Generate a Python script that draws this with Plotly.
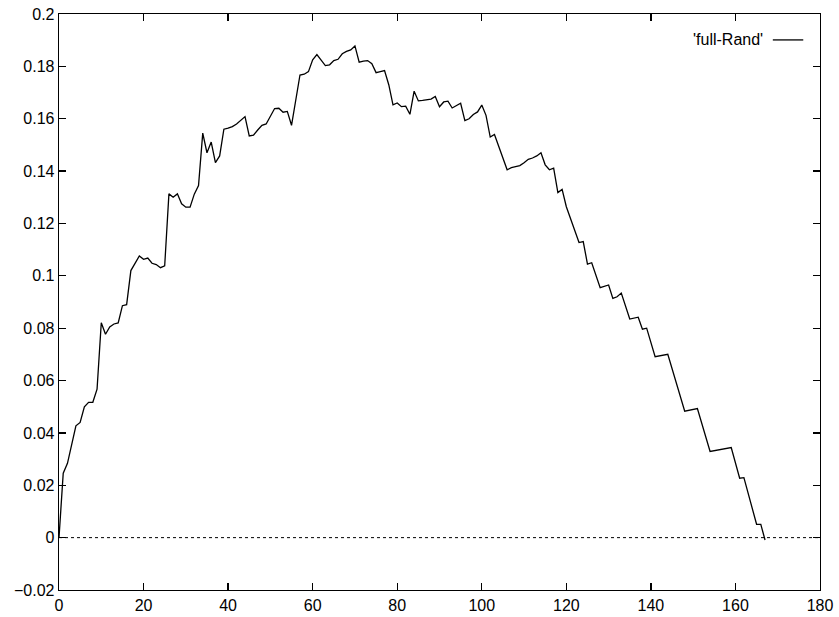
import plotly.graph_objects as go

x_vals = [0, 1, 2, 4, 5, 6, 7, 8, 9, 10, 11, 12, 13, 14, 15, 16, 17, 19, 20, 21,
          22, 23, 24, 25, 26, 27, 28, 29, 30, 31, 32, 33, 34, 35, 36, 37, 38, 39, 40, 41,
          42, 43, 44, 45, 46, 47, 48, 49, 50, 51, 52, 53, 54, 55, 57, 58, 59, 60, 61, 62,
          63, 64, 65, 66, 67, 68, 69, 70, 71, 72, 73, 74, 75, 76, 77, 78, 79, 80, 81, 82,
          83, 84, 85, 86, 87, 88, 89, 90, 91, 92, 93, 94, 95, 96, 97, 98, 99, 100, 101, 102,
          103, 106, 107, 108, 109, 110, 111, 112, 113, 114, 115, 116, 117, 118, 119, 120, 123, 124, 125, 126,
          128, 130, 131, 132, 133, 135, 137, 138, 139, 141, 144, 148, 151, 154, 159, 161, 162, 165, 166, 167]
y_vals = [0.0, 0.0246, 0.0284, 0.0427, 0.044, 0.050, 0.0517, 0.0517, 0.0567, 0.0821, 0.0777, 0.0805, 0.0816, 0.082, 0.0886, 0.089, 0.102, 0.1076, 0.1063, 0.1068,
          0.1048, 0.1043, 0.1031, 0.1038, 0.1313, 0.130, 0.1313, 0.1275, 0.1262, 0.1262, 0.1312, 0.1345, 0.1545, 0.147, 0.1511, 0.1432, 0.1458, 0.156, 0.1564, 0.157,
          0.158, 0.1595, 0.1608, 0.1534, 0.1537, 0.1557, 0.1575, 0.158, 0.161, 0.1639, 0.164, 0.1625, 0.1628, 0.1575, 0.1767, 0.177, 0.178, 0.1825, 0.1845, 0.1822,
          0.1803, 0.1806, 0.1822, 0.1827, 0.1848, 0.1857, 0.1863, 0.1878, 0.1816, 0.182, 0.1822, 0.181, 0.1776, 0.178, 0.1784, 0.173, 0.1653, 0.166, 0.1646, 0.1648,
          0.1617, 0.1705, 0.1668, 0.167, 0.1672, 0.1675, 0.1685, 0.1646, 0.1664, 0.1667, 0.1641, 0.165, 0.1659, 0.1593, 0.160, 0.1616, 0.1626, 0.1652, 0.1613, 0.153,
          0.154, 0.1405, 0.1413, 0.1417, 0.1421, 0.1432, 0.1445, 0.145, 0.1458, 0.147, 0.1424, 0.1405, 0.1411, 0.1318, 0.133, 0.1264, 0.1127, 0.1131, 0.1045, 0.105,
          0.0955, 0.0965, 0.0914, 0.092, 0.0934, 0.0835, 0.0842, 0.0796, 0.080, 0.0691, 0.070, 0.0483, 0.0493, 0.0329, 0.0344, 0.0227, 0.0229, 0.0051, 0.0051, -0.0009]

x_ticks = [0, 20, 40, 60, 80, 100, 120, 140, 160, 180]
y_ticks = [-0.02, 0, 0.02, 0.04, 0.06, 0.08, 0.1, 0.12, 0.14, 0.16, 0.18, 0.2]
y_tick_text = ["\u22120.02", "0", "0.02", "0.04", "0.06", "0.08", "0.1", "0.12", "0.14", "0.16", "0.18", "0.2"]
series_name = "'full-Rand'"

font = dict(family="Liberation Sans, Arial, Helvetica", size=16, color="black")

fig = go.Figure()
fig.add_trace(go.Scatter(x=x_vals, y=y_vals, mode="lines", name=series_name,
                         line=dict(color="black", width=1.3), showlegend=False,
                         hoverinfo="skip"))

axis_common = dict(showgrid=False, zeroline=False, showline=True, linecolor="black",
                   linewidth=1.3, mirror="ticks", ticks="inside", ticklen=7,
                   tickwidth=1.3, tickcolor="black", tickfont=font, automargin=False,
                   ticklabeloverflow="allow")

fig.update_xaxes(range=[0, 180], tickvals=x_ticks, ticktext=[str(v) for v in x_ticks], **axis_common)
fig.update_yaxes(range=[-0.02, 0.2], tickvals=y_ticks, ticktext=y_tick_text, **axis_common)

# dotted zero line
fig.add_shape(type="line", xref="x", yref="y", x0=0, x1=180, y0=0, y1=0,
              line=dict(color="black", width=1, dash="dot"))

# gnuplot-style key: text then line sample
fig.add_annotation(xref="paper", yref="paper", x=0.928, y=0.955, text=series_name,
                   showarrow=False, xanchor="right", yanchor="middle", font=font)
fig.add_shape(type="line", xref="paper", yref="paper", x0=0.938, x1=0.978, y0=0.955, y1=0.955,
              line=dict(color="black", width=1.3))

fig.update_layout(width=839, height=617, margin=dict(l=59, r=19, t=14, b=27),
                  plot_bgcolor="white", paper_bgcolor="white", font=font)

fig.write_html("out.html", config={"displayModeBar": False, "staticPlot": True},
               post_script="document.body.style.margin='0px';")
